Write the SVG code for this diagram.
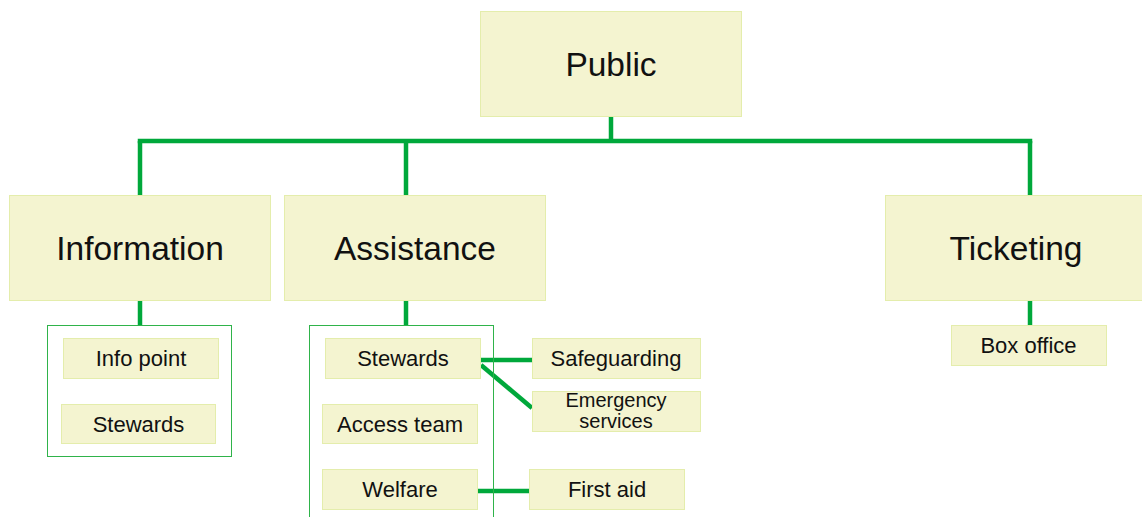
<svg xmlns="http://www.w3.org/2000/svg" width="1142" height="517" viewBox="0 0 1142 517">
<style>
.box{fill:#f4f4d0;stroke:#e4edac;stroke-width:1}
.grp{fill:none;stroke:#2fb34a;stroke-width:1}
.big{font-family:"Liberation Sans",Arial,sans-serif;font-size:33.5px;fill:#111;text-anchor:middle}
.sm{font-family:"Liberation Sans",Arial,sans-serif;font-size:22px;fill:#111;text-anchor:middle}
.xs{font-family:"Liberation Sans",Arial,sans-serif;font-size:20px;fill:#111;text-anchor:middle}
.con{stroke:#00a83b;stroke-width:4.5;fill:none}
</style>
<rect width="1142" height="517" fill="#ffffff"/>
<g id="connectors">
<line class="con" x1="611" y1="116" x2="611" y2="141"/>
<line class="con" x1="137.75" y1="141" x2="1032.25" y2="141"/>
<line class="con" x1="140" y1="141" x2="140" y2="195"/>
<line class="con" x1="406" y1="141" x2="406" y2="195"/>
<line class="con" x1="1030" y1="141" x2="1030" y2="195"/>
<line class="con" x1="140" y1="300" x2="140" y2="325"/>
<line class="con" x1="406" y1="300" x2="406" y2="325"/>
<line class="con" x1="1030" y1="300" x2="1030" y2="325"/>
<line class="con" x1="481" y1="360" x2="532" y2="360"/>
<line class="con" x1="481" y1="365" x2="532" y2="408"/>
<line class="con" x1="478" y1="491" x2="529" y2="491"/>
</g>
<g id="public"><rect class="box" x="480.5" y="11.5" width="261" height="105"/><text class="big" x="611" y="75.5">Public</text></g>
<g id="information"><rect class="box" x="9.5" y="195.5" width="261" height="105"/><text class="big" x="140" y="259.5">Information</text></g>
<g id="assistance"><rect class="box" x="284.5" y="195.5" width="261" height="105"/><text class="big" x="415" y="259.5">Assistance</text></g>
<g id="ticketing"><rect class="box" x="885.5" y="195.5" width="261" height="105"/><text class="big" x="1016" y="259.5">Ticketing</text></g>
<g id="info-group"><rect class="grp" x="47.5" y="325.5" width="184" height="131"/></g>
<g id="assist-group"><rect class="grp" x="309.5" y="325.5" width="184" height="200"/></g>
<g id="info-point"><rect class="box" x="63.5" y="338.5" width="155" height="40"/><text class="sm" x="141" y="366">Info point</text></g>
<g id="info-stewards"><rect class="box" x="61.5" y="404.5" width="154" height="39"/><text class="sm" x="138.5" y="431.5">Stewards</text></g>
<g id="assist-stewards"><rect class="box" x="325.5" y="338.5" width="155" height="40"/><text class="sm" x="403" y="366">Stewards</text></g>
<g id="access-team"><rect class="box" x="322.5" y="404.5" width="155" height="39"/><text class="sm" x="400" y="431.5">Access team</text></g>
<g id="welfare"><rect class="box" x="322.5" y="469.5" width="155" height="40"/><text class="sm" x="400" y="497">Welfare</text></g>
<g id="safeguarding"><rect class="box" x="532.5" y="338.5" width="168" height="40"/><text class="sm" x="616" y="366">Safeguarding</text></g>
<g id="emergency"><rect class="box" x="532.5" y="391.5" width="168" height="40"/><text class="xs" x="616" y="407">Emergency</text><text class="xs" x="616" y="428">services</text></g>
<g id="first-aid"><rect class="box" x="529.5" y="469.5" width="155" height="40"/><text class="sm" x="607" y="497">First aid</text></g>
<g id="box-office"><rect class="box" x="951.5" y="325.5" width="155" height="40"/><text class="sm" x="1028.5" y="353">Box office</text></g>
</svg>
